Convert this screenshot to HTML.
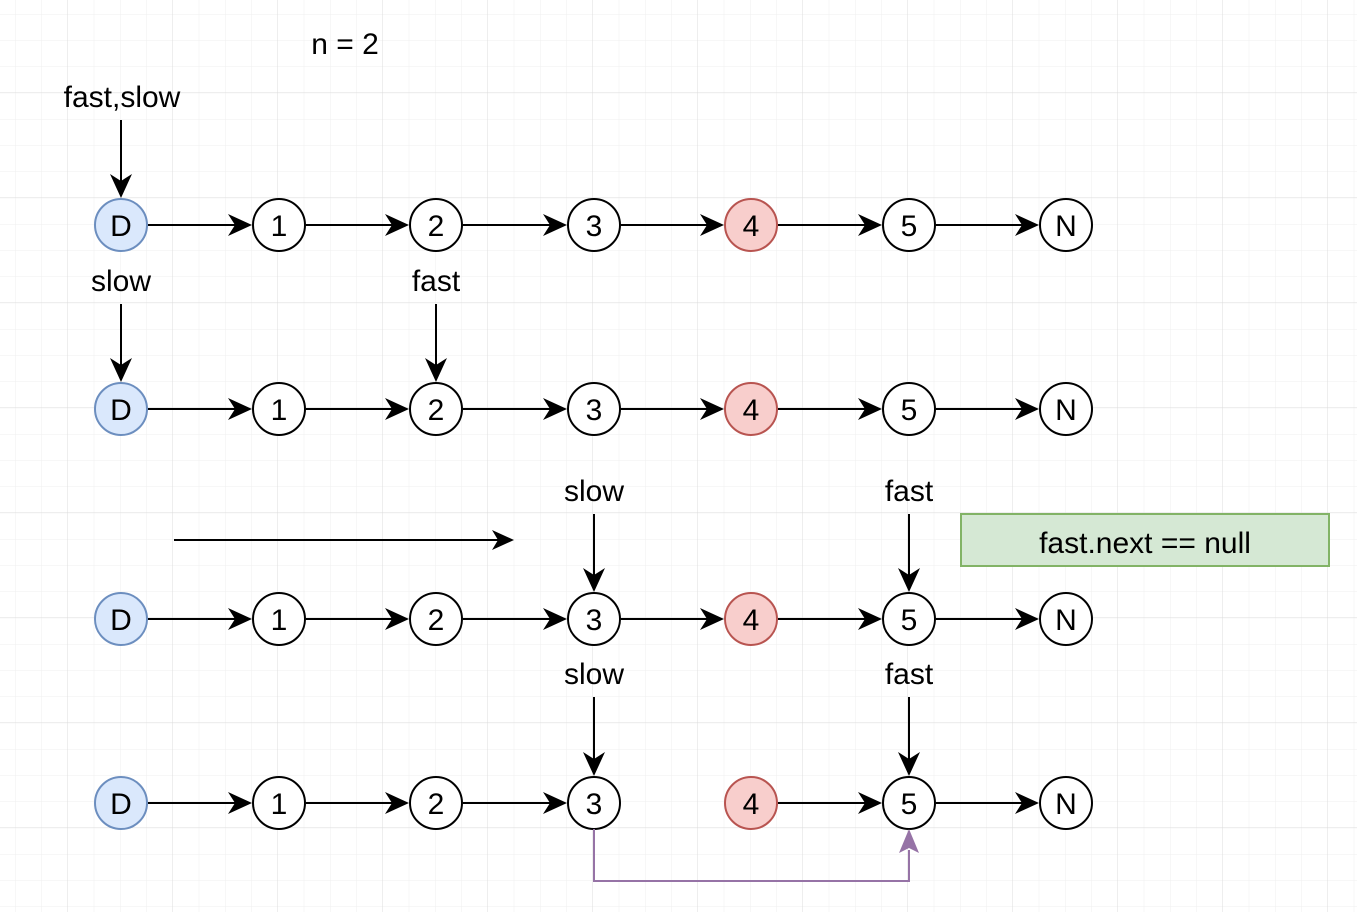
<!DOCTYPE html>
<html><head><style>
html,body{margin:0;padding:0;background:#fff;}
svg{display:block;}
text{font-family:"Liberation Sans",sans-serif;}
</style></head><body>
<svg width="1357" height="912" xmlns="http://www.w3.org/2000/svg">
<defs>
<pattern id="minor" x="-10.75" y="-11.75" width="26.25" height="26.25" patternUnits="userSpaceOnUse">
<path d="M26.25 0V26.25M0 26.25H26.25" fill="none" stroke="#efefef" stroke-width="1"/>
</pattern>
<pattern id="major" x="-37" y="-12" width="105" height="105" patternUnits="userSpaceOnUse">
<path d="M105 0V105M0 105H105" fill="none" stroke="#dcdcdc" stroke-width="1"/>
</pattern>
</defs>
<rect width="1357" height="912" fill="url(#minor)"/>
<rect width="1357" height="912" fill="url(#major)"/>
<g id="all" font-size="30" text-anchor="middle"></g>
<text x="345" y="54" font-size="30" text-anchor="middle">n = 2</text>
<text x="122" y="107" font-size="30" text-anchor="middle">fast,slow</text>
<rect x="961" y="514" width="368" height="52" fill="#d5e8d4" stroke="#82b366" stroke-width="2"/>
<text x="1145" y="553" font-size="30" text-anchor="middle">fast.next == null</text>
<line x1="174" y1="540" x2="498" y2="540" stroke="#000" stroke-width="2"/>
<polygon points="514,540 492,530 498,540 492,550" fill="#000"/>
<path d="M594 829 V881 H909 V850" fill="none" stroke="#9673a6" stroke-width="2"/>
<polygon points="909,829 899,853 909,848 919,853" fill="#9673a6"/>
<script>
(function(){
var ns="http://www.w3.org/2000/svg",g=document.getElementById("all");
function el(t,a,txt){var e=document.createElementNS(ns,t);for(var k in a)e.setAttribute(k,a[k]);if(txt)e.textContent=txt;g.appendChild(e);return e;}
var xs=[121,279,436,594,751,909,1066],lab=["D","1","2","3","4","5","N"],ys=[225,409,619,803],r=26;
function arrowH(x1,x2,y){el("line",{x1:x1,y1:y,x2:x2-16,y2:y,stroke:"#000","stroke-width":2});el("polygon",{points:(x2)+","+y+" "+(x2-24)+","+(y-11)+" "+(x2-17)+","+y+" "+(x2-24)+","+(y+11),fill:"#000"});}
function arrowV(x,y1,y2){el("line",{x1:x,y1:y1,x2:x,y2:y2-16,stroke:"#000","stroke-width":2});el("polygon",{points:x+","+y2+" "+(x-11)+","+(y2-24)+" "+x+","+(y2-17)+" "+(x+11)+","+(y2-24),fill:"#000"});}
ys.forEach(function(y,ri){
 for(var i=0;i<6;i++){ if(ri==3&&i==3)continue; arrowH(xs[i]+r+1,xs[i+1]-r-1,y);}
 xs.forEach(function(x,i){
  var f="#fff",s="#000";
  if(i==0){f="#dae8fc";s="#6c8ebf";} if(i==4){f="#f8cecc";s="#b85450";}
  el("circle",{cx:x,cy:y,r:r,fill:f,stroke:s,"stroke-width":2});
  el("text",{x:x,y:y+11},lab[i]);
 });
});
arrowV(121,120,198);
el("text",{x:121,y:291},"slow");arrowV(121,304,382);
el("text",{x:436,y:291},"fast");arrowV(436,304,382);
el("text",{x:594,y:501},"slow");arrowV(594,514,592);
el("text",{x:909,y:501},"fast");arrowV(909,514,592);
el("text",{x:594,y:684},"slow");arrowV(594,697,776);
el("text",{x:909,y:684},"fast");arrowV(909,697,776);
})();
</script>
</svg>
</body></html>
